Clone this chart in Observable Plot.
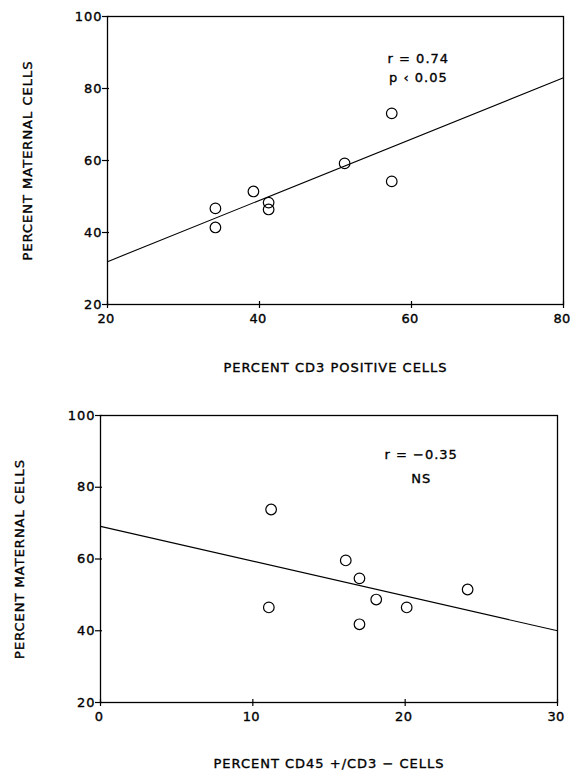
<!DOCTYPE html>
<html>
<head>
<meta charset="utf-8">
<script src="https://cdn.jsdelivr.net/npm/d3@7"></script>
<script src="https://cdn.jsdelivr.net/npm/@observablehq/plot@0.6"></script>
<style>
  html, body { margin: 0; padding: 0; background: #fff; }
  #chart { width: 571px; }
  #chart svg { display: block; }
  #chart svg text { letter-spacing: 1px; stroke: #000; stroke-width: 0.35px; fill: #000; }
  #chart svg g[aria-label="x-axis tick label"] text { letter-spacing: 0.3px; }
</style>
</head>
<body>
<div id="chart"></div>
<script>
// Panel A: percent CD3 positive cells vs percent maternal cells
const cd3X = [34.2, 34.2, 39.2, 41.2, 41.2, 51.2, 57.4, 57.4];
const cd3Y = [46.7, 41.4, 51.4, 48.3, 46.4, 59.2, 73.1, 54.2];
const cd3FitX = [20, 80];
const cd3FitY = [31.9, 83.0];
const cd3Stats = ["r = 0.74", "p ‹ 0.05"];
const cd3XTicks = [20, 40, 60, 80];

// Panel B: percent CD45+/CD3- cells vs percent maternal cells
const cd45X = [11.2, 11.05, 16.1, 17.0, 18.1, 20.1, 17.0, 24.1];
const cd45Y = [73.8, 46.5, 59.6, 54.6, 48.7, 46.5, 41.8, 51.5];
const cd45FitX = [0, 30];
const cd45FitY = [69.1, 40.0];
const cd45Stats = ["r = −0.35", "NS"];
const cd45XTicks = [0, 10, 20, 30];

const yTicks = [20, 40, 60, 80, 100];
const yTitle = "PERCENT MATERNAL CELLS";
const cd3Title = "PERCENT CD3 POSITIVE CELLS";
const cd45Title = "PERCENT CD45 +/CD3 − CELLS";

const FONT = "DejaVu Sans, sans-serif";

function panel({xs, ys, fitX, fitY, stats, statsX, statsY, xDomain, xTicks, xTitle,
                height, mt, mb, ml, mr, titleDy, yTitleDx}) {
  const pts = xs.map((x, i) => ({x, y: ys[i]}));
  const fit = fitX.map((x, i) => ({x, y: fitY[i]}));
  const xPerPx = (xDomain[1] - xDomain[0]) / (571 - ml - mr);
  const yPerPx = 80 / (height - mt - mb);
  const statRows = stats.map((t, i) => ({t, x: statsX, y: statsY[i]}));
  return Plot.plot({
    width: 571,
    height,
    marginTop: mt,
    marginBottom: mb,
    marginLeft: ml,
    marginRight: mr,
    style: {fontFamily: FONT, fontSize: "13px", background: "#fff", color: "#000", overflow: "visible"},
    x: {domain: xDomain},
    y: {domain: [20, 100]},
    marks: [
      Plot.frame({stroke: "#000", strokeWidth: 1.3}),
      // crossing tick marks on the bottom axis
      Plot.ruleX(xTicks, {x: d => d, y1: 20 - 4 * yPerPx, y2: 20 + 3 * yPerPx, stroke: "#000", strokeWidth: 1.2}),
      // crossing tick marks on the left axis
      Plot.ruleY(yTicks, {y: d => d, x1: xDomain[0] - 5 * xPerPx, x2: xDomain[0] + 2 * xPerPx, stroke: "#000", strokeWidth: 1.2}),
      Plot.axisX({ticks: xTicks, tickSize: 0, tickPadding: 9, label: null, fontSize: 13, dx: -1.5}),
      Plot.axisY({ticks: yTicks, tickSize: 0, tickPadding: 5, label: null, fontSize: 13}),
      Plot.line(fit, {x: "x", y: "y", stroke: "#000", strokeWidth: 1.1}),
      Plot.dot(pts, {x: "x", y: "y", r: 5.3, stroke: "#000", strokeWidth: 1.2, fill: "none"}),
      Plot.text(statRows, {x: "x", y: "y", text: "t", fontSize: 13, fill: "#000"}),
      Plot.text([xTitle], {frameAnchor: "bottom", dy: titleDy, fontSize: 13, fill: "#000", textAnchor: "middle"}),
      Plot.text([yTitle], {frameAnchor: "left", dx: yTitleDx, rotate: -90, fontSize: 13, fill: "#000", textAnchor: "middle"})
    ]
  });
}

const chart = document.getElementById("chart");
chart.append(panel({
  xs: cd3X, ys: cd3Y, fitX: cd3FitX, fitY: cd3FitY,
  stats: cd3Stats, statsX: 60.9, statsY: [88.3, 83.0],
  xDomain: [20, 80], xTicks: cd3XTicks, xTitle: cd3Title,
  height: 380, mt: 16, mb: 76, ml: 107, mr: 8, titleDy: 67.5, yTitleDx: -80
}));
chart.append(panel({
  xs: cd45X, ys: cd45Y, fitX: cd45FitX, fitY: cd45FitY,
  stats: cd45Stats, statsX: 21.05, statsY: [89.1, 82.4],
  xDomain: [0, 30], xTicks: cd45XTicks, xTitle: cd45Title,
  height: 396, mt: 35, mb: 74, ml: 100, mr: 14, titleDy: 65, yTitleDx: -81
}));
</script>
</body>
</html>
